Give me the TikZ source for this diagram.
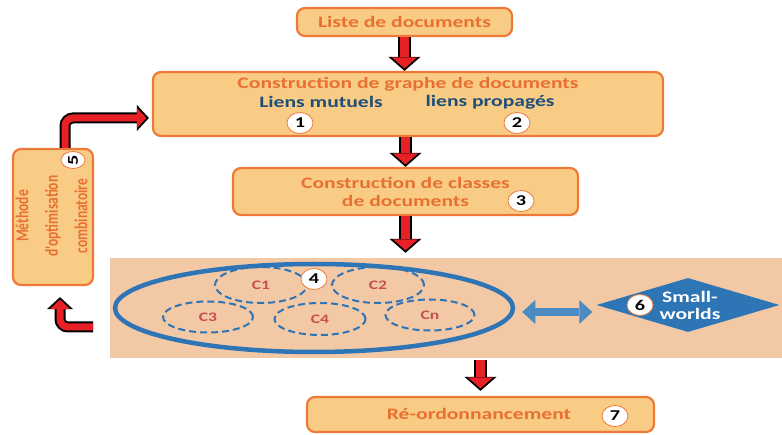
\documentclass[tikz,border=0pt]{standalone}
\usepackage{fontspec}
\setmainfont{Carlito}[FakeStretch=1.35]
\newfontfamily\rotfont{Carlito}
\usetikzlibrary{arrows.meta,shapes.geometric,positioning}
\definecolor{boxfill}{RGB}{249,204,134}
\definecolor{boxline}{RGB}{238,122,58}
\definecolor{orangetext}{RGB}{232,112,50}
\definecolor{bluetext}{RGB}{31,78,121}
\definecolor{peach}{RGB}{243,200,165}
\definecolor{clusterblue}{RGB}{46,117,182}
\definecolor{arrowred}{RGB}{230,32,36}
\definecolor{clabel}{RGB}{196,82,76}

\begin{document}
\begin{tikzpicture}[x=1pt,y=1pt]
\tikzstyle{box}=[rectangle,rounded corners=8pt,draw=boxline,line width=2.2pt,fill=boxfill,inner sep=0pt]
\tikzstyle{title}=[text=orangetext,align=center,font=\fontsize{16}{18}\selectfont\bfseries]
\tikzstyle{sub}=[text=bluetext,font=\fontsize{16}{18}\selectfont\bfseries]
\tikzstyle{badge}=[ellipse,fill=white,draw=boxline,line width=0.8pt,minimum width=26pt,minimum height=21pt,inner sep=0pt,font=\fontsize{15}{18}\selectfont\bfseries]
\tikzstyle{cluster}=[ellipse,draw=clusterblue,line width=2pt,dash pattern=on 7pt off 4pt,inner sep=0pt,text=clabel,font=\fontsize{13}{15}\selectfont\bfseries]
\tikzstyle{arrowout}=[draw=black,line width=13pt,-{Triangle[length=14pt,width=32pt,line width=0pt]}]
\tikzstyle{arrowin}=[draw=arrowred,line width=9pt,shorten >=2.5pt,-{Triangle[length=11pt,width=25pt,line width=0pt]}]
\tikzstyle{bendout}=[draw=black,line width=11pt,rounded corners=8pt,-{Triangle[length=12pt,width=26pt,line width=0pt]}]
\tikzstyle{bendin}=[draw=arrowred,line width=7pt,rounded corners=8pt,shorten >=2.5pt,-{Triangle[length=9.5pt,width=20pt,line width=0pt]}]
\useasboundingbox (0,0) rectangle (782,-435);

% boxes
\node [box,minimum width=215pt,minimum height=28pt,title] (liste) at(404.5,-22) {Liste de documents};
\node [box,minimum width=510pt,minimum height=64pt] (graph) at(408,-104) {};
\node [title] (graphtitle) at(408,-84) {Construction de graphe de documents};
\node [sub] (mutuels) at(321,-102) {Liens mutuels};
\node [sub] (propages) at(490,-102) {liens propagés};
\node [badge] (b1) at(300,-123) {1};
\node [badge] (b2) at(517,-123) {2};
\node [box,minimum width=345pt,minimum height=47pt,title] (classes) at(405.5,-191.5) {Construction de classes\\de documents};
\node [badge] (b3) at(521,-201) {3};
\node [box,minimum width=80pt,minimum height=136pt] (opt) at(53,-217) {};
\node [text=orangetext,rotate=90,inner sep=0pt,font=\rotfont\fontsize{13.5}{21.8}\selectfont\bfseries] (opttext) at(52,-216) {\scalebox{1}[1.35]{\begin{tabular}{@{}c@{}}Méthode\\d'optimisation\\combinatoire\end{tabular}}};
\node [badge,minimum width=24pt,minimum height=17pt] (b5) at(73,-160) {\rotatebox{90}{5}};

% clusters
\node [rectangle,fill=peach,minimum width=672pt,minimum height=100pt,inner sep=0pt] (bg) at(446,-308) {};
\node [ellipse,draw=clusterblue,line width=4.5pt,minimum width=398pt,minimum height=88pt,inner sep=0pt] (bigell) at(314,-308) {};
\node [cluster,minimum width=92pt,minimum height=36pt] (cone) at(261,-285) {C1};
\node [cluster,minimum width=92pt,minimum height=36pt] (ctwo) at(378,-285) {C2};
\node [cluster,minimum width=90pt,minimum height=31pt] (cthree) at(208,-317) {C3};
\node [cluster,minimum width=91pt,minimum height=32pt] (cfour) at(320,-319) {C4};
\node [cluster,minimum width=89pt,minimum height=31pt] (cn) at(430,-315) {Cn};
\node [badge] (b4) at(314,-279) {4};
\node [diamond,fill=clusterblue,minimum width=183pt,minimum height=54pt,aspect=3.4,inner sep=0pt] (sw) at(688,-305) {};
\node [text=white,align=center,font=\fontsize{16}{17}\selectfont\bfseries] (swtext) at(690,-305) {Small-\\worlds};
\node [badge] (b6) at(640,-305) {6};
\node [box,minimum width=347pt,minimum height=35pt] (reord) at(480.5,-414.5) {};
\node [title] (reordtext) at(479,-414) {Ré-ordonnancement};
\node [badge] (b7) at(615,-416) {7};
\coordinate (ret) at(93,-327);

% arrows
\draw [arrowout] (liste.south) -- (liste.south |- graph.north);
\draw [arrowin] (liste.south) -- (liste.south |- graph.north);
\draw [arrowout] (graph.south -| classes.north) -- (classes.north);
\draw [arrowin] (graph.south -| classes.north) -- (classes.north);
\draw [arrowout,shorten >=5pt] (classes.south) -- (classes.south |- bg.north);
\draw [arrowin,shorten >=7.5pt] (classes.south) -- (classes.south |- bg.north);
\draw [arrowout,shorten <=2pt,shorten >=5pt] (reord.north |- bg.south) -- (reord.north);
\draw [arrowin,shorten <=2pt,shorten >=7.5pt] (reord.north |- bg.south) -- (reord.north);
\draw [bendout,shorten >=3pt] ([xshift=12pt]opt.north) |- ([yshift=-14pt]graph.west);
\draw [bendin,shorten >=5.5pt] ([xshift=12pt]opt.north) |- ([yshift=-14pt]graph.west);
\draw [bendout,shorten >=11pt] (ret) -| ([xshift=7pt]opt.south);
\draw [bendin,shorten >=13.5pt] (ret) -| ([xshift=7pt]opt.south);
\draw [draw=clusterblue!85!white,line width=8pt,shorten <=7pt,shorten >=4pt,{Triangle[length=13pt,width=24pt,line width=0pt]}-{Triangle[length=13pt,width=24pt,line width=0pt]}] ([yshift=-4pt]bigell.east) -- ([yshift=-7pt]sw.west);
\end{tikzpicture}
\end{document}
